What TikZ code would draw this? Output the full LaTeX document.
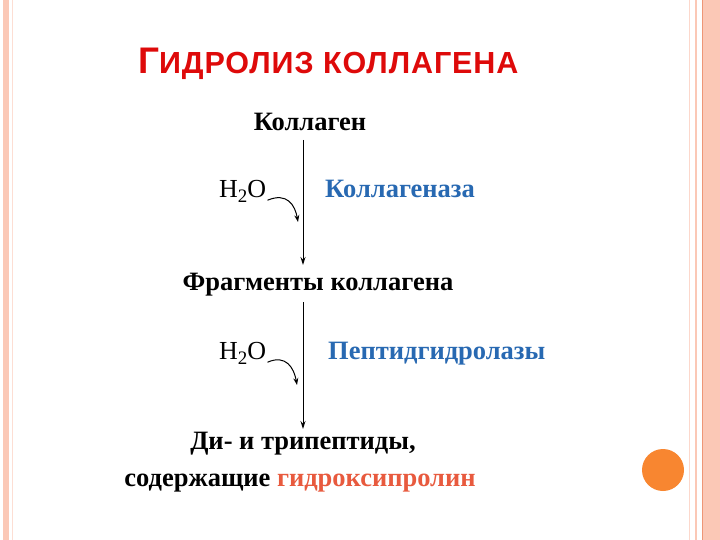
\documentclass[tikz,border=0pt]{standalone}
\usepackage{fontspec}
\setmainfont{Liberation Serif}
\newfontfamily\headfont[LetterSpace=3]{Liberation Sans}
\usetikzlibrary{arrows.meta}

\definecolor{titlered}{RGB}{222,10,10}
\definecolor{enzblue}{RGB}{40,105,178}
\definecolor{hypred}{RGB}{232,90,62}
\definecolor{framepink}{RGB}{251,200,182}
\definecolor{framedark}{RGB}{238,150,118}
\definecolor{dotorange}{RGB}{248,134,48}

\newcommand{\water}{H\raisebox{-0.22em}{\fontsize{19}{20}\selectfont 2}O}

\tikzset{
  subst/.style={font=\fontsize{26.5}{31}\selectfont\bfseries, inner sep=0pt, anchor=base, align=center},
  enzyme/.style={font=\fontsize{26.5}{31}\selectfont\bfseries, text=enzblue, inner sep=0pt, anchor=base west},
  water/.style={font=\fontsize{26}{30}\selectfont, inner sep=0pt, anchor=base west},
  react/.style={-{Stealth[length=8pt,width=5pt]}, line width=1pt},
  attack/.style={-{Stealth[length=7pt,width=5pt]}, line width=1pt},
}

\begin{document}
\begin{tikzpicture}[x=1pt,y=-1pt]
            \useasboundingbox (0,0) rectangle (720,540);
            \fill[white] (0,0) rectangle (720,540);

            % frame
            \fill[framepink] (3,0) rectangle (9,540);
            \draw[framepink!60,line width=1pt] (12.5,0) -- (12.5,540);
            \draw[framepink!70,line width=1.2pt] (689.5,0) -- (689.5,540);
            \draw[framepink,line width=1.2pt] (696,0) -- (696,540);
            \fill[framepink] (702,0) rectangle (720,540);
            \draw[framedark,line width=1pt] (702.5,0) -- (702.5,540);
            \fill[dotorange] (663,470) circle (21);

            % title
            \node[text=titlered, inner sep=0pt, anchor=base west] (title) at (138,74)
              {\headfont\bfseries\fontsize{37}{42}\selectfont Г\fontsize{30.5}{35}\selectfont ИДРОЛИЗ КОЛЛАГЕНА};

            % scheme
            \node[subst] (kol) at (310,131) {Коллаген};
            \node[subst] (frag) at (318,290) {Фрагменты коллагена};
            \node[subst] (di) at (303,449) {Ди- и трипептиды,};
            \node[subst] (sod) at (300,486) {содержащие \textcolor{hypred}{гидроксипролин}};

            \node[water] (w1) at (219,197) {\water};
            \node[water] (w2) at (219,359) {\water};
            \node[enzyme] (enz1) at (325,197) {Коллагеназа};
            \node[enzyme] (enz2) at (328,359) {Пептидгидролазы};

            \coordinate (a1) at (303,140);
            \coordinate (b1) at (303,265);
            \coordinate (a2) at (303,302);
            \coordinate (b2) at (303,429);
            \coordinate (t1) at (298,222);
            \coordinate (t2) at (297,385);

            \draw[react] (a1) -- (b1);
            \draw[react] (a2) -- (b2);
            \draw[attack] ([xshift=1pt,yshift=-9pt]w1.east) .. controls (287,192) and (295,205) .. (t1);
            \draw[attack] ([xshift=1pt,yshift=-9pt]w2.east) .. controls (286,354) and (294,368) .. (t2);
\end{tikzpicture}
\end{document}
